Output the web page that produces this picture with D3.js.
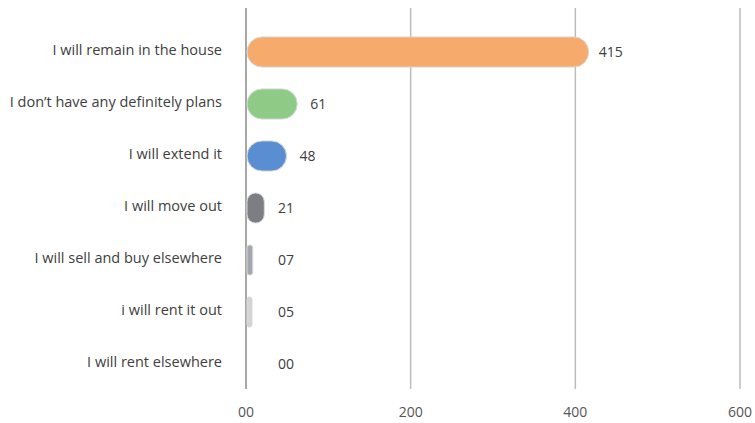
<!DOCTYPE html>
<html><head><meta charset="utf-8">
<script src="https://cdn.jsdelivr.net/npm/d3@7"></script>
<style>body{margin:0;background:#fff;} svg{display:block;} text{font-family:"Open Sans","Noto Sans",sans-serif;}</style>
</head><body>
<svg id="c" width="755" height="423"></svg>
<script>
const categories = ["I will remain in the house","I don’t have any definitely plans","I will extend it","I will move out","I will sell and buy elsewhere","i will rent it out","I will rent elsewhere"];
const values = [415, 61, 48, 21, 7, 5, 0];
const valueLabels = ["415","61","48","21","07","05","00"];
const colors = ["#F6AA6C","#8DCB86","#5A8ED2","#7D7E84","#A2A6AF","#D4D4D4","#D4D4D4"];
const tickValues = [0, 200, 400, 600];
const tickLabels = ["00","200","400","600"];

const svg = d3.select("#c");
const x = d3.scaleLinear().domain([0, 600]).range([246, 740]);
const y = d3.scaleBand().domain(categories).range([26, 390]).paddingInner(0.42).paddingOuter(0.21);

svg.selectAll("line.grid").data(tickValues).enter().append("line")
  .attr("x1", d => x(d)).attr("x2", d => x(d))
  .attr("y1", 8).attr("y2", 389)
  .attr("stroke", d => d === 0 ? "#8a8a8a" : "#bdbdbd")
  .attr("stroke-width", 1.5);

svg.selectAll("text.tick").data(tickValues).enter().append("text")
  .attr("x", d => x(d)).attr("y", 417)
  .attr("text-anchor", "middle")
  .attr("font-size", 14).attr("fill", "#555")
  .text((d, i) => tickLabels[i]);

svg.selectAll("text.cat").data(categories).enter().append("text")
  .attr("x", 222).attr("y", d => y(d) + y.bandwidth() / 2 - 2)
  .attr("dy", "0.35em").attr("text-anchor", "end")
  .attr("font-size", 14.5).attr("fill", "#404040")
  .text(d => d);

const h = y.bandwidth();
values.forEach((d, i) => {
  if (d <= 0) return;
  const w = Math.max(x(d) - x(0), 5);
  svg.append("rect")
    .attr("x", x(0) + 1)
    .attr("y", y(categories[i]))
    .attr("height", h)
    .attr("width", w)
    .attr("rx", Math.min(h / 2, w / 2))
    .attr("fill", colors[i])
    .attr("stroke", "#d9d9d9").attr("stroke-width", 1);
});

svg.selectAll("text.val").data(values).enter().append("text")
  .attr("x", d => Math.max(x(d), 264) + (d > 100 ? 11 : 14))
  .attr("y", (d, i) => y(categories[i]) + h / 2)
  .attr("dy", "0.35em")
  .attr("font-size", 14).attr("fill", "#404040")
  .text((d, i) => valueLabels[i]);
</script>
</body></html>
